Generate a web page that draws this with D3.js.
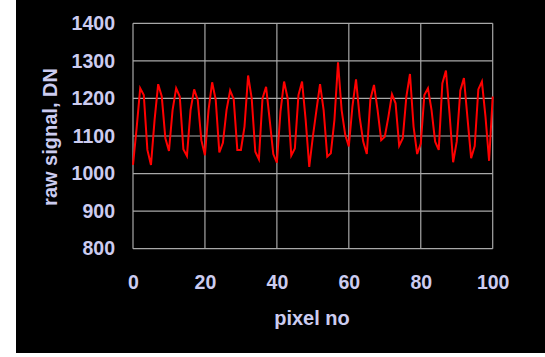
<!DOCTYPE html>
<html>
<head>
<meta charset="utf-8">
<script src="https://cdn.jsdelivr.net/npm/d3@7"></script>
<style>
html,body{margin:0;padding:0;background:#ffffff;}
svg{display:block;}
</style>
</head>
<body>
<script>
const pixelNo = d3.range(0, 101);
const rawSignal = [
1023,1120,1227,1209,1063,1023,1143,1238,1205,1094,
1060,1169,1227,1205,1065,1047,1169,1224,1196,1089,
1049,1169,1243,1196,1056,1082,1169,1221,1198,1063,
1063,1125,1261,1200,1058,1038,1200,1231,1143,1052,
1029,1165,1245,1200,1048,1067,1209,1245,1143,1018,
1098,1169,1238,1169,1045,1054,1143,1296,1169,1103,
1072,1178,1251,1151,1085,1052,1198,1236,1169,1089,
1098,1151,1211,1187,1074,1094,1205,1265,1125,1052,
1080,1209,1227,1169,1085,1063,1240,1274,1160,1030,
1085,1221,1254,1147,1041,1073,1224,1245,1151,1034,
1205];
const xTicks = [0, 20, 40, 60, 80, 100];
const yTicks = [800, 900, 1000, 1100, 1200, 1300, 1400];
const xTitle = "pixel no";
const yTitle = "raw signal, DN";

const W = 545, H = 357;
const svg = d3.select("body").append("svg").attr("width", W).attr("height", H);

// black panel
svg.append("rect").attr("x", 16).attr("y", 0).attr("width", W - 16).attr("height", 353).attr("fill", "#000");

const pLeft = 133, pRight = 492.7, pTop = 23.3, pBottom = 248.7;
const x = d3.scaleLinear().domain([0, 100]).range([pLeft, pRight]);
const y = d3.scaleLinear().domain([800, 1400]).range([pBottom, pTop]);

const txtColor = "#ccccf0";
const gridColor = "#a8a8a8";
const font = "'Liberation Sans', Arial, sans-serif";

// gridlines
svg.append("g").selectAll("line").data(yTicks).join("line")
  .attr("x1", pLeft).attr("x2", pRight)
  .attr("y1", d => y(d)).attr("y2", d => y(d))
  .attr("stroke", gridColor).attr("stroke-width", 1.2);
svg.append("g").selectAll("line").data(xTicks).join("line")
  .attr("y1", pTop).attr("y2", pBottom)
  .attr("x1", d => x(d)).attr("x2", d => x(d))
  .attr("stroke", gridColor).attr("stroke-width", 1.2);

// axes (labels only)
const yAxis = d3.axisLeft(y).tickValues(yTicks).tickSize(0).tickPadding(18).tickFormat(d3.format("d"));
const gy = svg.append("g").attr("transform", `translate(${pLeft},0)`).call(yAxis);
gy.select(".domain").remove();
gy.selectAll("text").attr("fill", txtColor).attr("font-family", font).attr("font-weight", "bold").attr("font-size", "19.5px");

const xAxis = d3.axisBottom(x).tickValues(xTicks).tickSize(0).tickPadding(26).tickFormat(d3.format("d"));
const gx = svg.append("g").attr("transform", `translate(0,${pBottom})`).call(xAxis);
gx.select(".domain").remove();
gx.selectAll("text").attr("fill", txtColor).attr("font-family", font).attr("font-weight", "bold").attr("font-size", "19.5px");

// line
const line = d3.line().x((d, i) => x(pixelNo[i])).y(d => y(d));
svg.append("path").datum(rawSignal).attr("d", line)
  .attr("fill", "none").attr("stroke", "#ff0000").attr("stroke-width", 2).attr("stroke-linejoin", "miter");

// titles
svg.append("text").attr("x", 312).attr("y", 325).attr("text-anchor", "middle")
  .attr("fill", txtColor).attr("font-family", font).attr("font-weight", "bold").attr("font-size", "20px").text(xTitle);
svg.append("text").attr("transform", "translate(57,137) rotate(-90)").attr("text-anchor", "middle")
  .attr("fill", txtColor).attr("font-family", font).attr("font-weight", "bold").attr("font-size", "20px").text(yTitle);
</script>
</body>
</html>
